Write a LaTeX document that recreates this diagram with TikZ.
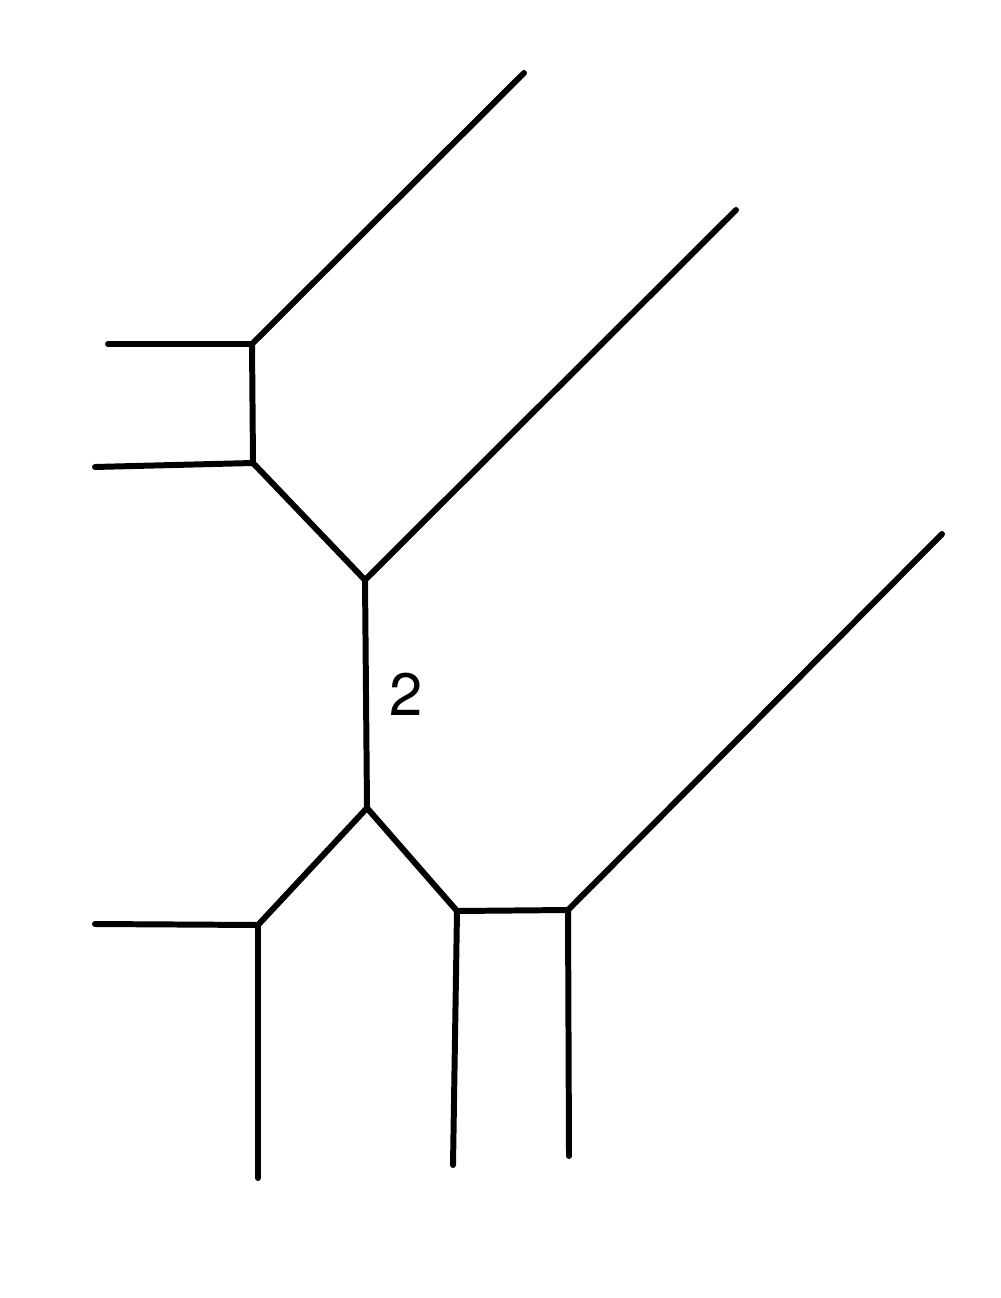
\documentclass[tikz,border=0pt]{standalone}
\usepackage{fontspec}
\setmainfont{TeX Gyre Heros}
\usetikzlibrary{positioning}

\begin{document}
\begin{tikzpicture}[x=0.01cm, y=-0.01cm, line width=1.7pt, line cap=round, line join=round]
    \useasboundingbox (0,0) rectangle (1000,1298);
    % inner vertices
    \coordinate (va) at (252,344);
    \coordinate (vb) at (253,463);
    \coordinate (vc) at (365,580);
    \coordinate (vd) at (367,808);
    \coordinate (ve) at (258,925);
    \coordinate (vf) at (457,911);
    \coordinate (vg) at (568,910);
    % free ends
    \coordinate (ea) at (524,73);
    \coordinate (eb) at (108,344);
    \coordinate (ec) at (95,467);
    \coordinate (ed) at (736,210);
    \coordinate (ee) at (95,924);
    \coordinate (ef) at (258,1178);
    \coordinate (eg) at (453,1165);
    \coordinate (eh) at (942,534);
    \coordinate (ei) at (569,1156);

    \draw (ea) -- (va) -- (eb);
    \draw (va) -- (vb) -- (ec);
    \draw (vb) -- (vc) -- (ed);
    \draw (vc) -- node[pos=0.5, right=2.5pt, font=\fontsize{17}{20}\selectfont] (weight) {2} (vd);
    \draw (vd) -- (ve) -- (ee);
    \draw (ve) -- (ef);
    \draw (vd) -- (vf) -- (eg);
    \draw (vf) -- (vg) -- (eh);
    \draw (vg) -- (ei);
\end{tikzpicture}
\end{document}
